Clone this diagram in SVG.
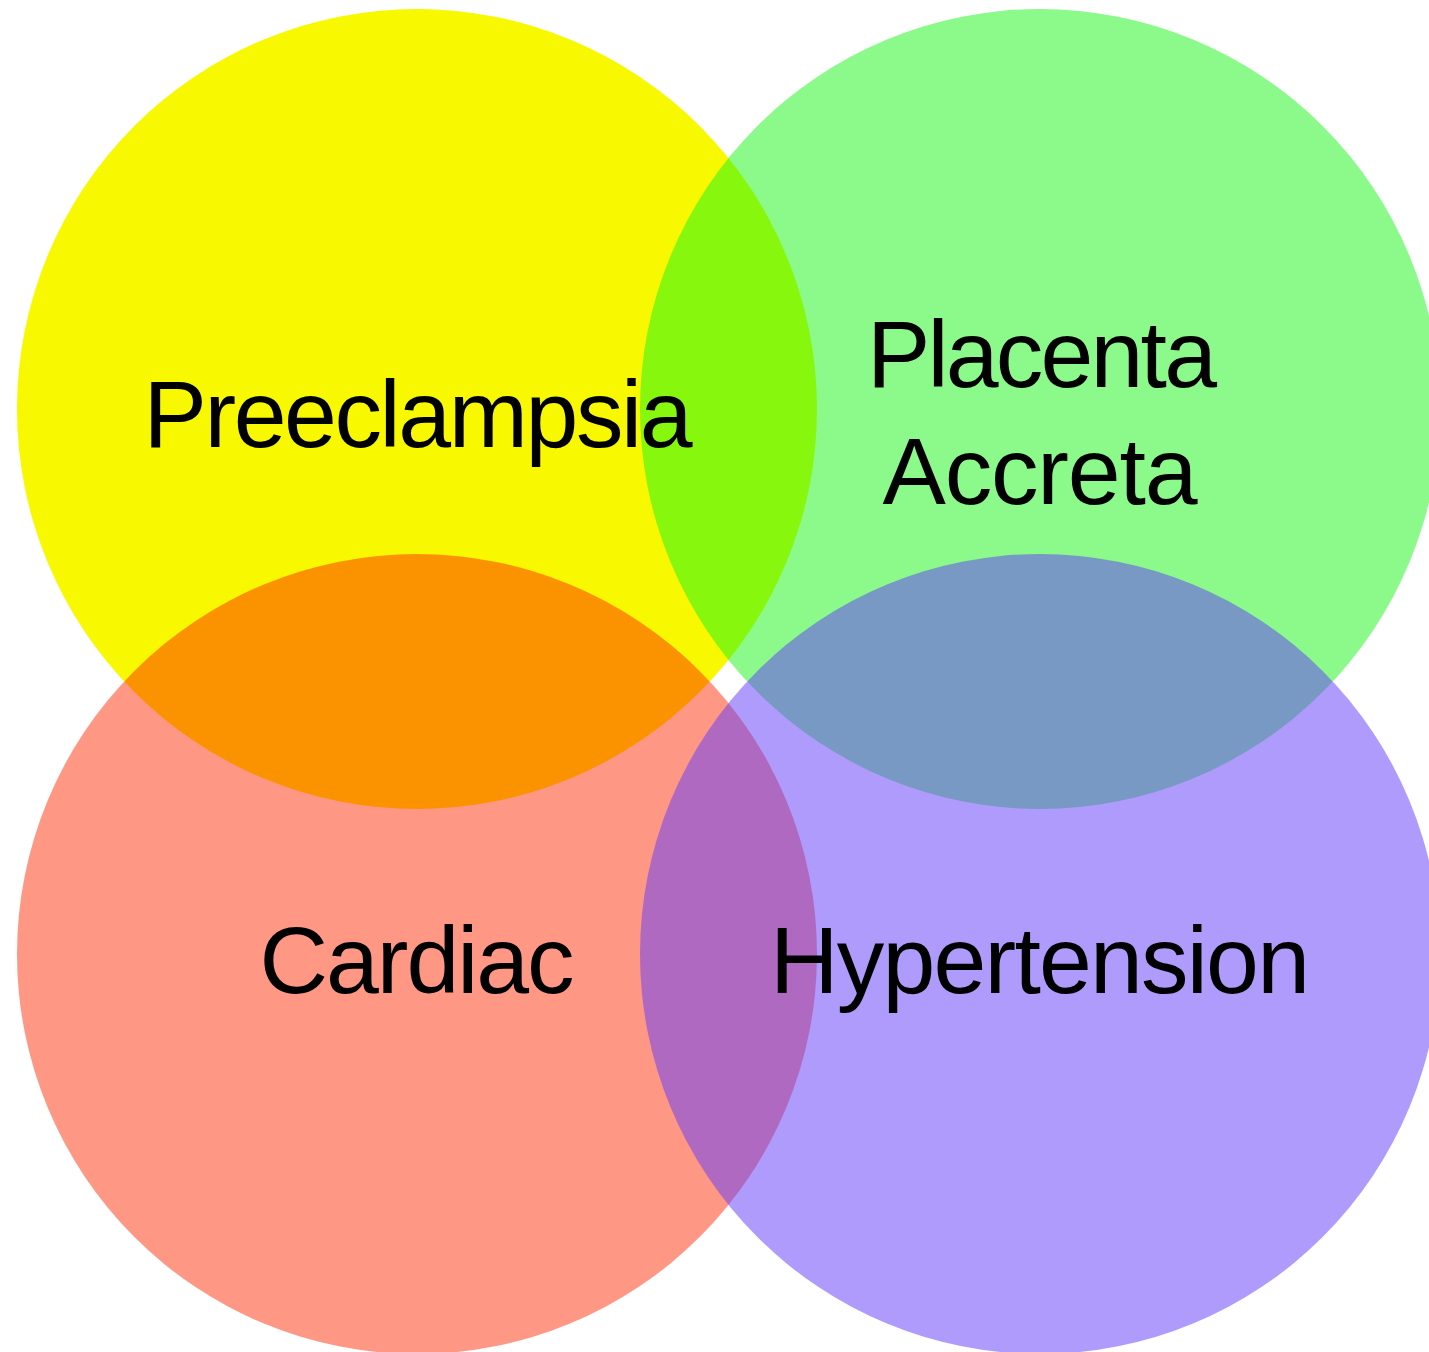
<svg xmlns="http://www.w3.org/2000/svg" width="1429" height="1352" viewBox="0 0 1429 1352">
<style>
text{font-family:"Liberation Sans",Arial,Helvetica,sans-serif;font-size:95px;fill:#000;text-anchor:middle}
</style>
<rect width="1429" height="1352" fill="#fff"/>
<g id="preeclampsia"><circle cx="417" cy="409" r="400" fill="#F8F800"/></g>
<g id="placenta-accreta"><circle cx="1040" cy="409" r="400" fill="rgb(27,245,27)" fill-opacity="0.51"/></g>
<g id="cardiac"><circle cx="417" cy="954" r="400" fill="rgb(255,38,0)" fill-opacity="0.48"/></g>
<g id="hypertension"><circle cx="1040" cy="954" r="400" fill="rgb(101,63,249)" fill-opacity="0.52"/></g>
<g id="labels">
<text x="418" y="447" textLength="549" lengthAdjust="spacing">Preeclampsia</text>
<text x="1042" y="387" textLength="350" lengthAdjust="spacing">Placenta</text>
<text x="1040" y="504" textLength="315" lengthAdjust="spacing">Accreta</text>
<text x="417" y="993" textLength="315" lengthAdjust="spacing">Cardiac</text>
<text x="1040" y="993" textLength="540" lengthAdjust="spacing">Hypertension</text>
</g>
<g id="connectors"/>
</svg>
